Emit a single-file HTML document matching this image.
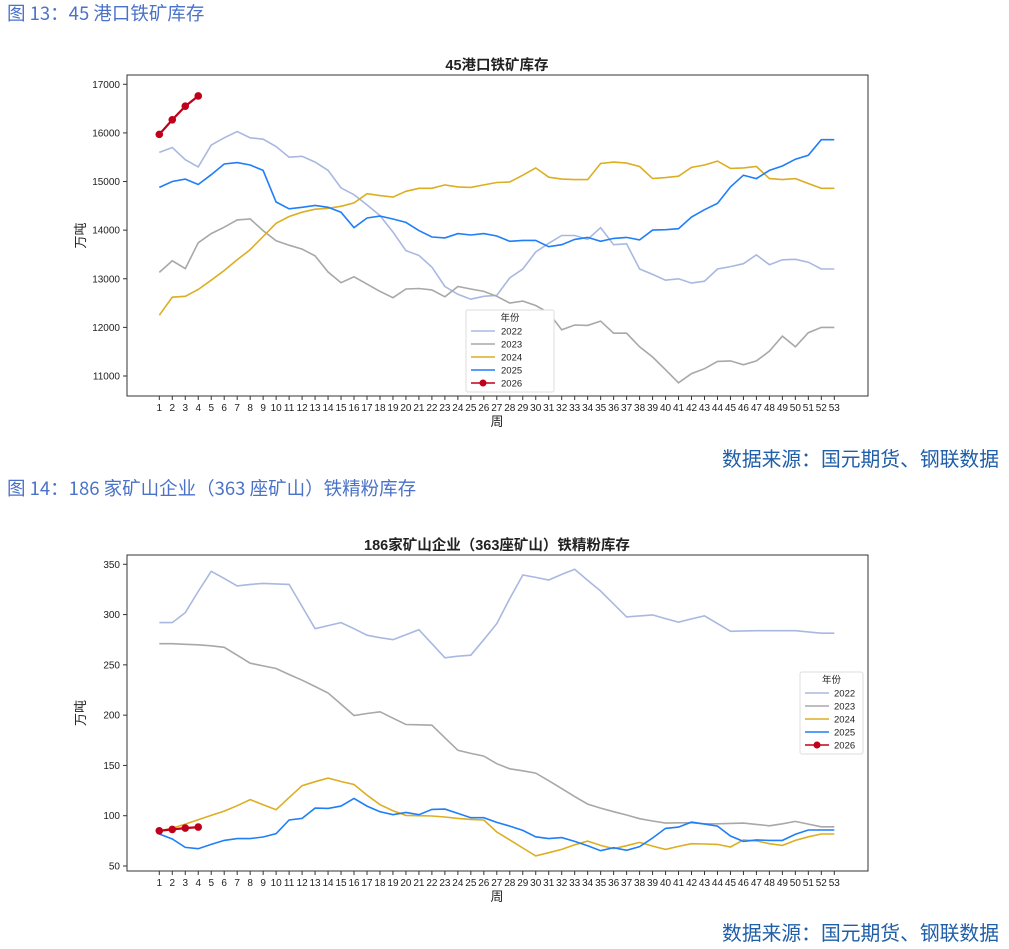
<!DOCTYPE html>
<html><head><meta charset="utf-8">
<style>
body{margin:0;background:#fff;width:1009px;height:949px;overflow:hidden;position:relative;font-family:"Liberation Sans","Noto Sans CJK SC",sans-serif;}
.cap{position:absolute;left:7px;font-size:18.5px;color:#4a72c8;font-family:"Noto Sans CJK SC",sans-serif;white-space:nowrap;}
.src{position:absolute;right:10px;font-size:19.8px;font-weight:normal;color:#1f5ea8;font-family:"Noto Sans CJK SC",sans-serif;white-space:nowrap;}
svg{position:absolute;left:0;}
</style></head><body>
<div class="cap" style="top:0px">图 13：45 港口铁矿库存</div>
<svg id="c1" width="1009" height="440" style="top:0"></svg>
<div class="src" style="top:443px">数据来源：国元期货、钢联数据</div>
<div class="cap" style="top:475px">图 14：186 家矿山企业（363 座矿山）铁精粉库存</div>
<svg id="c2" width="1009" height="440" style="top:476px"></svg>
<div class="src" style="top:917px">数据来源：国元期货、钢联数据</div>
<script>
const weeks = Array.from({length:53},(_,i)=>i+1);
const years = ["2022","2023","2024","2025","2026"];
const colors = ["#a9b8e0","#a8a8a8","#dcae22","#1f7ef8","#c0001a"];

const port2022 = [15600,15700,15450,15300,15750,15900,16030,15900,15870,15720,15500,15520,15400,15230,14870,14730,14520,14300,13960,13580,13480,13240,12840,12680,12580,12640,12660,13020,13200,13550,13730,13890,13890,13810,14050,13700,13720,13200,13090,12970,13000,12910,12950,13200,13250,13310,13490,13290,13390,13400,13340,13200,13200];
const port2023 = [13130,13370,13210,13740,13930,14060,14210,14230,13990,13780,13690,13610,13470,13140,12920,13040,12890,12740,12610,12790,12800,12770,12630,12840,12790,12740,12640,12500,12540,12450,12300,11950,12050,12040,12130,11880,11880,11600,11390,11130,10860,11050,11150,11300,11310,11230,11310,11510,11820,11600,11890,12000,12000];
const port2024 = [12250,12620,12640,12780,12970,13170,13390,13600,13870,14140,14280,14370,14430,14450,14490,14560,14750,14710,14680,14800,14860,14860,14930,14890,14880,14930,14980,14990,15130,15280,15090,15050,15040,15040,15370,15400,15380,15310,15060,15080,15110,15290,15340,15420,15270,15280,15310,15060,15040,15060,14960,14860,14860];
const port2025 = [14880,15000,15050,14940,15140,15360,15390,15340,15230,14580,14440,14470,14510,14470,14370,14050,14250,14290,14230,14160,13990,13860,13840,13930,13900,13930,13880,13770,13790,13790,13660,13700,13810,13850,13770,13830,13850,13800,14000,14010,14030,14270,14420,14550,14890,15130,15060,15230,15320,15460,15540,15860,15860];
const port2026 = [15970,16270,16550,16760];
const portTicks = [11000,12000,13000,14000,15000,16000,17000];

const mine2022 = [292,292,302,323,343,336,328.5,330,331,330.5,330,308,286,289,292,286,279.5,277,275,280,285,271,257,258.6,259.6,275,291,316,339.4,337,334.4,340,345,334,323.5,310.6,297.7,298.7,299.7,296,292.4,295.7,298.7,291,283.4,283.8,284,284,284,284,282.8,281.5,281.5];
const mine2023 = [271,271,270.5,270,269,267.5,259.6,251.7,249,246.4,240.4,234.8,228.5,222,211,199.7,201.6,203.3,197,190.7,190.4,190,177.5,165,162,159.3,151.7,146.7,144.7,142.4,134.8,127,119,111.6,107.6,104,100.7,97,94.7,92.7,93,93,92,92,92.4,92.7,91.4,90,92,94.3,91.7,89,89];
const mine2024 = [85,87.7,91.7,96,100.3,104.6,110,116,111,106,118,129.8,133.8,137.4,134,131,120.5,111,105,100.3,100,99.7,98.7,97.3,96.3,95.7,83.8,76,67.9,60,63.2,66.5,71.1,74.8,70.5,67.2,70.2,73.5,69.8,66.5,69.5,72.2,71.9,71.5,68.9,76,75,72.2,70.5,75.5,79,81.8,81.8];
const mine2025 = [81.8,76.8,68.5,67.2,71.5,75.5,77.2,77.2,78.8,82.1,95.7,97.3,107.6,107.3,109.6,117.2,109.6,104,101,103.3,101,106.3,106.6,102.3,98,98,93.4,89.7,85.4,79,77.2,78.2,74.5,70.2,65.2,68.2,65.6,69.2,77.8,87.4,88.7,93.7,91.7,89.7,79.8,74.5,76,75.5,75.5,81.5,85.8,85.8,85.8];
const mine2026 = [85,86.4,87.7,88.7];
const mineTicks = [50,100,150,200,250,300,350];

const NS="http://www.w3.org/2000/svg";
function mk(svg,tag,attrs,text){const e=document.createElementNS(NS,tag);for(const k in attrs)e.setAttribute(k,attrs[k]);if(text!==undefined)e.textContent=text;svg.appendChild(e);return e;}

function draw(svgId,cfg){
  const svg=document.getElementById(svgId);
  const L=127,R=868,T=cfg.top,B=cfg.bottom;
  const x=w=>159.3+(w-1)*(834.3-159.3)/52;
  const y=v=>cfg.y0+(v-cfg.v0)*(cfg.y1-cfg.y0)/(cfg.v1-cfg.v0);
  const t=mk(svg,'text',{x:497,y:T-5,'text-anchor':'middle','font-size':'14.5','font-weight':'bold',fill:'#222','font-family':'"Liberation Sans","Noto Sans CJK SC",sans-serif'},cfg.title);
  
  
  const fr=mk(svg,'rect',{x:L,y:T,width:R-L,height:B-T,fill:'none',stroke:'#333','stroke-width':1});
  
  
  cfg.ticks.forEach(v=>{
    mk(svg,'line',{x1:L-4,x2:L,y1:y(v),y2:y(v),stroke:'#333'});
    const tl=mk(svg,'text',{x:L-7,y:y(v)+3.5,'text-anchor':'end','font-size':'10',fill:'#222'},String(v));
    
    
  });
  weeks.forEach(w=>{
    mk(svg,'line',{x1:x(w),x2:x(w),y1:B,y2:B+4,stroke:'#333'});
    const tl=mk(svg,'text',{x:x(w),y:B+15,'text-anchor':'middle','font-size':'10',fill:'#222'},String(w));
    
    
  });
  const yl=mk(svg,'text',{x:0,y:0,transform:`translate(85,${(T+B)/2}) rotate(-90)`,'text-anchor':'middle','font-size':'13',fill:'#222','font-family':'"Noto Sans CJK SC",sans-serif'},'万吨');
  
  
  const xl=mk(svg,'text',{x:497,y:B+30,'text-anchor':'middle','font-size':'13',fill:'#222','font-family':'"Noto Sans CJK SC",sans-serif'},'周');
  
  
  cfg.series.forEach((s,i)=>{
    const pts=s.map((v,j)=>x(j+1).toFixed(1)+','+y(v).toFixed(1)).join(' ');
    const pl=mk(svg,'polyline',{points:pts,fill:'none',stroke:colors[i],'stroke-width':i==4?2.2:1.6});
    
    
    if(i==4) s.forEach((v,j)=>{
      const c=mk(svg,'circle',{cx:x(j+1),cy:y(v),r:3.8,fill:colors[i]});
      
      
    });
  });
  const lx=cfg.lx,ly=cfg.ly;
  const g=mk(svg,'g',{});
  
  
  mk(g,'rect',{x:lx,y:ly,width:cfg.lw,height:82,fill:'#fff',stroke:'#ddd',rx:2});
  mk(g,'text',{x:lx+cfg.lw/2,y:ly+11,'text-anchor':'middle','font-size':'9.5',fill:'#222','font-family':'"Noto Sans CJK SC",sans-serif'},'年份');
  years.forEach((yr,i)=>{
    const yy=ly+21+i*13;
    mk(g,'line',{x1:lx+5,x2:lx+29,y1:yy,y2:yy,stroke:colors[i],'stroke-width':1.6});
    if(i==4) mk(g,'circle',{cx:lx+17,cy:yy,r:3.5,fill:colors[i]});
    const le=mk(g,'text',{x:lx+cfg.tx,y:yy+3.5,'text-anchor':'start','font-size':'9.5',fill:'#222'},yr);
    
    
  });
}
draw('c1',{title:'45港口铁矿库存',top:75,bottom:396,v0:17000,y0:84.3,v1:11000,y1:376,ticks:portTicks,
  series:[port2022,port2023,port2024,port2025,port2026],lx:466,ly:310,lw:88,tx:35});
draw('c2',{title:'186家矿山企业（363座矿山）铁精粉库存',top:79,bottom:395,v0:350,y0:88.3,v1:50,y1:390,ticks:mineTicks,
  series:[mine2022,mine2023,mine2024,mine2025,mine2026],lx:800,ly:196,lw:63,tx:34});
</script>
</body></html>
